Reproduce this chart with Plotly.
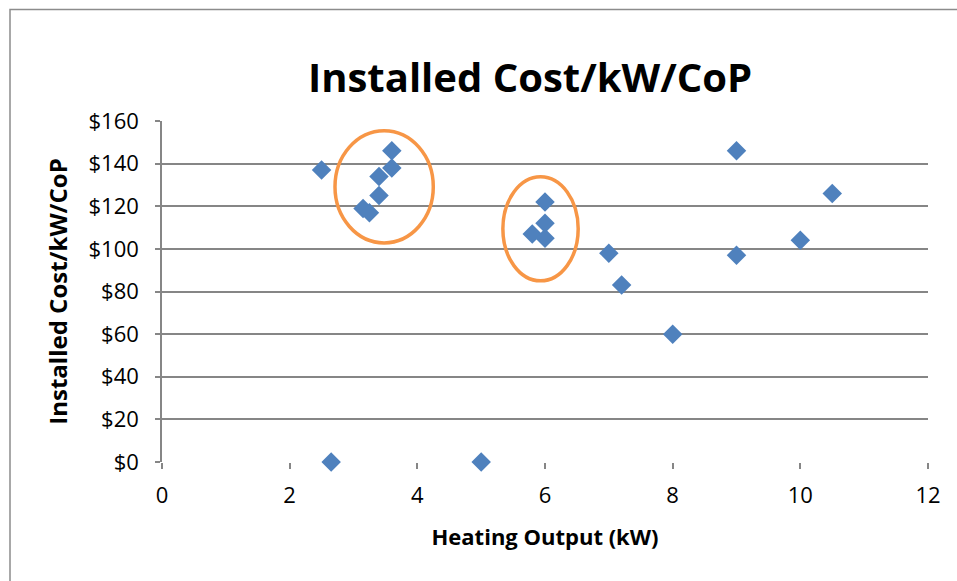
import plotly.graph_objects as go

heating_kw = [2.5, 2.65, 5.0, 3.15, 3.25, 3.4, 3.4, 3.6, 3.6, 5.8, 6.0, 6.0, 6.0,
              7.0, 7.2, 8.0, 9.0, 9.0, 10.0, 10.5]
cost_per_kw_cop = [137, 0, 0, 119, 117, 134, 125, 146, 138, 107, 122, 112, 105,
                   98, 83, 60, 146, 97, 104, 126]

y_ticks = [0, 20, 40, 60, 80, 100, 120, 140, 160]
y_tick_labels = ["$" + str(v) for v in y_ticks]
x_ticks = [0, 2, 4, 6, 8, 10, 12]

# highlight ellipses (data coords): x0, x1, y0, y1
ellipses = [(2.71, 4.25, 102.8, 155.4), (5.34, 6.52, 85.0, 133.8)]

FONT = "Open Sans"
fig = go.Figure()
fig.add_trace(go.Scatter(
    x=heating_kw, y=cost_per_kw_cop, mode="markers",
    marker=dict(symbol="diamond", size=15, color="#4F81BD",
                line=dict(width=0)),
    cliponaxis=False, showlegend=False))

for x0, x1, y0, y1 in ellipses:
    fig.add_shape(type="circle", xref="x", yref="y", x0=x0, x1=x1, y0=y0, y1=y1,
                  line=dict(color="#F79646", width=3.5), layer="above")

# chart border
fig.add_shape(type="rect", xref="paper", yref="paper",
              x0=(10 - 162) / 766, x1=(975 - 162) / 766,
              y0=(462 - 600) / 341, y1=(462 - 9.5) / 341,
              line=dict(color="#8C8C8C", width=1.5))

fig.update_layout(
    width=957, height=581,
    margin=dict(l=162, r=29, t=121, b=119),
    paper_bgcolor="white", plot_bgcolor="white",
    font=dict(family=FONT, color="black", size=22),
    title=dict(text="<b>Installed Cost/kW/CoP</b>", x=530 / 957, xanchor="center",
               y=1 - 78 / 581, yanchor="middle",
               font=dict(family=FONT, size=40, color="black")),
    xaxis=dict(range=[0, 12], tickvals=x_ticks, showgrid=False,
               zeroline=False, showline=False, ticks="outside", ticklen=6,
               tickcolor="#868686", tickwidth=1.5, ticklabelstandoff=8,
               tickfont=dict(size=22),
               title=dict(text="<b>Heating Output (kW)</b>", font=dict(size=22),
                          standoff=21)),
    yaxis=dict(range=[0, 160], tickvals=y_ticks, ticktext=y_tick_labels,
               showgrid=True, gridcolor="#868686", gridwidth=1.5,
               zeroline=False, showline=True, linecolor="#868686", linewidth=1.5,
               ticks="outside", ticklen=5, tickcolor="#868686", tickwidth=1.5,
               ticklabelstandoff=12,
               tickfont=dict(size=22),
               title=dict(text="<b>Installed Cost/kW/CoP</b>", font=dict(size=24),
                          standoff=14)),
)
fig.write_html("out.html", config={"displayModeBar": False},
               post_script="document.body.style.margin='0';")
